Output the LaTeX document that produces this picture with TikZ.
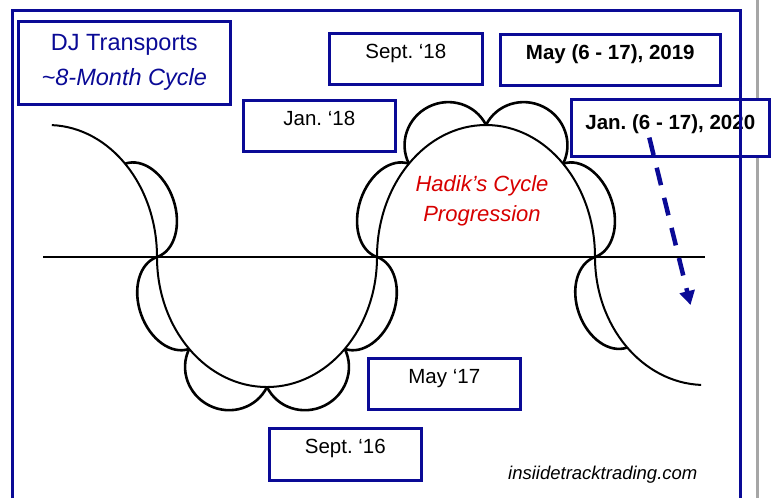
\documentclass[tikz,border=0pt]{standalone}
\usepackage{fontspec}
\setmainfont{Liberation Sans}
\usepackage{tikz}
\usetikzlibrary{arrows.meta}
\definecolor{navyblue}{RGB}{10,10,150}
\definecolor{hadikred}{RGB}{215,0,0}
\frenchspacing
% one small loop of the cycle: centre, angle, half chord, bulge
\newcommand{\lobe}[5]{\draw[lobeline, shift={(#1,#2)}, rotate=#3] (-#4,0) arc[start angle=180, end angle=0, x radius=#4, y radius=#5];}

\begin{document}
\begin{tikzpicture}[
    x=1pt, y=1pt,
    wave/.style={line width=2pt},
    lobeline/.style={line width=2.6pt},
    datebox/.style={draw=navyblue, line width=2.6pt, fill=white, anchor=north west, inner sep=0pt,
        text height=25pt, text depth=26pt, font=\fontsize{20.5}{24}\selectfont},
    trendarrow/.style={-{Triangle[length=14pt, width=15pt]}, draw=navyblue, line width=4.5pt, dash pattern=on 18pt off 13pt}
]
    \useasboundingbox (0,0) rectangle (773,498);
    \draw[black!35, line width=3pt] (757.5,0) -- (757.5,498);

    % Cycle curve
    \draw[wave] (51.8,372.9) arc[start angle=88, end angle=0, x radius=109, y radius=132]
        arc[start angle=180, end angle=360, x radius=110, y radius=130]
        arc[start angle=180, end angle=0, x radius=109, y radius=132]
        arc[start angle=180, end angle=268, x radius=110, y radius=128];
    \draw[line width=1.8pt] (43,241) -- (705,241);

    % Loops
    \lobe{141.05}{287.65}{-71.13}{49.3}{34}
    \lobe{173.1}{195.05}{109.31}{48.69}{34}
    \lobe{228.1}{130.05}{153.91}{43.31}{42}
    \lobe{305.9}{130.05}{206.09}{43.31}{42}
    \lobe{360.9}{195.05}{250.69}{48.69}{34}
    \lobe{392.95}{287.65}{71.13}{49.3}{34}
    \lobe{447.45}{353.65}{26.65}{43.13}{42}
    \lobe{524.55}{353.65}{-26.65}{43.13}{42}
    \lobe{579.05}{287.65}{-71.13}{49.3}{34}
    \lobe{611.1}{195.75}{109.59}{48.03}{34}

    % Boxes
    \node[draw=navyblue, line width=2.6pt, fill=white, anchor=north west, minimum width=212pt, minimum height=83pt,
        align=center, text=navyblue, font=\fontsize{23.5}{35}\selectfont] (title) at (17,478)
        {DJ Transports\\\textit{\textasciitilde 8-Month Cycle}};
    \node[datebox, minimum width=153pt] (sept18) at (328,466) {Sept. ‘18};
    \node[datebox, minimum width=152pt] (jan18) at (242,399) {Jan. ‘18};
    \node[datebox, minimum width=220pt, font=\fontsize{20.5}{24}\selectfont\bfseries] (may19) at (499,465) {May (6 - 17), 2019};
    \node[datebox, minimum width=198pt, text height=30pt, text depth=27pt, font=\fontsize{20.5}{24}\selectfont\bfseries] (jan20) at (570,400) {Jan. (6 - 17), 2020};
    \node[datebox, minimum width=152pt] (may17) at (367,141) {May ‘17};
    \node[datebox, minimum width=152pt, text depth=27pt] (sept16) at (268,71) {Sept. ‘16};

    % Labels
    \node[align=center, text=hadikred, font=\fontsize{22}{30}\selectfont\itshape] (hadik) at (482,296.7) {Hadik’s Cycle\\Progression};
    \node[anchor=base west, inner sep=0pt, font=\fontsize{18.5}{22}\selectfont\itshape] (site) at (508,19) {insiidetracktrading.com};

    % Trend
    \coordinate (trendend) at (690.5,193);
    \draw[trendarrow] ([xshift=-21pt, yshift=20pt]jan20.south) -- (trendend);

    \draw[navyblue, line width=3pt] (12,0) |- (740.5,487) -- (740.5,0);
\end{tikzpicture}
\end{document}
